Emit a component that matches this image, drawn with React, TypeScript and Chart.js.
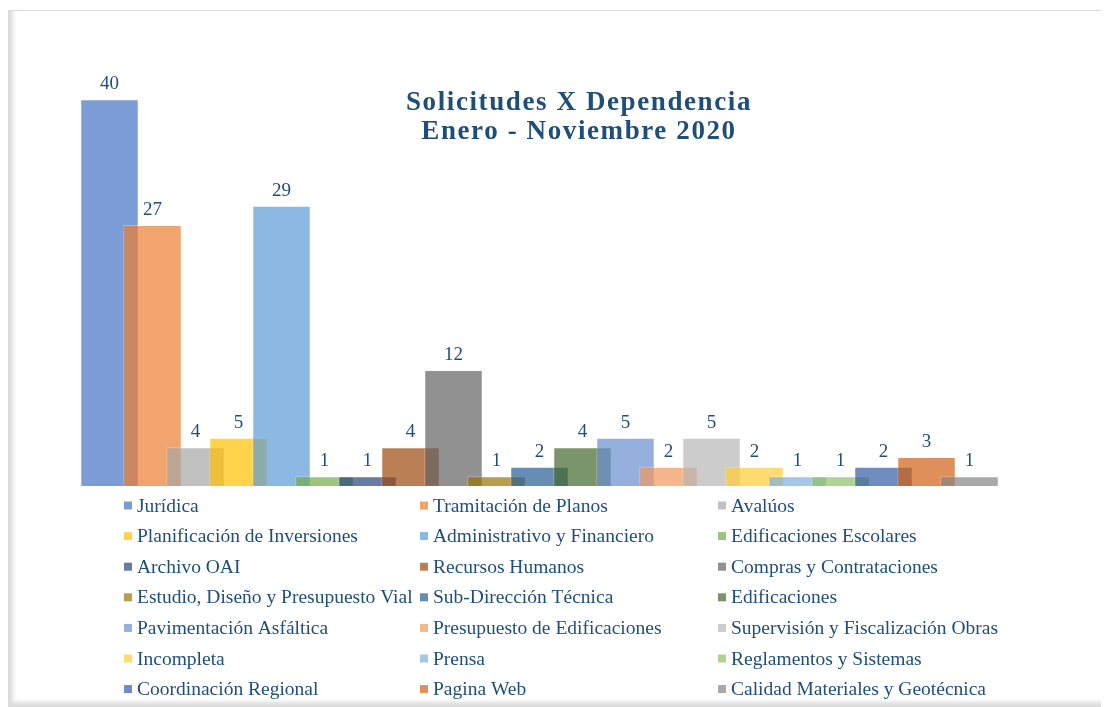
import React, { useEffect, useRef } from "react";
import { Chart, registerables } from "chart.js";

Chart.register(...registerables);

const categories = ["Enero - Noviembre 2020"];
const seriesNames = [
  "Jurídica",
  "Tramitación de Planos",
  "Avalúos",
  "Planificación de Inversiones",
  "Administrativo y Financiero",
  "Edificaciones Escolares",
  "Archivo OAI",
  "Recursos Humanos",
  "Compras y Contrataciones",
  "Estudio, Diseño y Presupuesto Vial",
  "Sub-Dirección Técnica",
  "Edificaciones",
  "Pavimentación Asfáltica",
  "Presupuesto de Edificaciones",
  "Supervisión y Fiscalización Obras",
  "Incompleta",
  "Prensa",
  "Reglamentos y Sistemas",
  "Coordinación Regional",
  "Pagina Web",
  "Calidad Materiales y Geotécnica",
];
const seriesValues = [40, 27, 4, 5, 29, 1, 1, 4, 12, 1, 2, 4, 5, 2, 5, 2, 1, 1, 2, 3, 1];
const seriesColors = [
  "68,114,196", "237,125,49", "165,165,165", "255,192,0", "91,155,213", "112,173,71",
  "38,68,120", "158,72,14", "99,99,99", "153,115,0", "37,94,145", "67,104,43",
  "105,142,208", "241,151,90", "183,183,183", "255,205,51", "124,175,221", "140,193,104",
  "51,90,161", "210,96,18", "132,132,132",
];
const titleLines = ["Solicitudes X Dependencia", "Enero - Noviembre 2020"];

const TEXT_COLOR = "#1F4E79";
const FONT = "'Liberation Serif', 'DejaVu Serif', serif";

// draw datasets in index order so later series sit on top of earlier ones
const drawOrderPlugin = {
  id: "forwardDrawOrder",
  beforeDatasetsDraw(chart: any) {
    chart.data.datasets.forEach((_: any, i: number) => {
      const meta = chart.getDatasetMeta(i);
      if (meta.visible !== false) meta.controller.draw();
    });
    return false;
  },
};

const labelsPlugin = {
  id: "valueLabels",
  afterDraw(chart: any) {
    const ctx = chart.ctx;
    ctx.save();
    ctx.font = `19px ${FONT}`;
    ctx.fillStyle = TEXT_COLOR;
    ctx.textAlign = "center";
    ctx.textBaseline = "alphabetic";
    chart.data.datasets.forEach((ds: any, i: number) => {
      const meta = chart.getDatasetMeta(i);
      meta.data.forEach((el: any, j: number) => {
        ctx.fillText(String(ds.data[j]), el.x, el.y - 10);
      });
    });
    ctx.restore();
  },
};

const titlePlugin = {
  id: "floatTitle",
  afterDraw(chart: any) {
    const ctx = chart.ctx;
    ctx.save();
    ctx.font = `bold 27px ${FONT}`;
    (ctx as any).letterSpacing = "1.6px";
    ctx.fillStyle = TEXT_COLOR;
    ctx.textAlign = "center";
    ctx.textBaseline = "alphabetic";
    const cx = 570;
    titleLines.forEach((t, i) => ctx.fillText(t, cx, 99 + i * 29));
    ctx.restore();
  },
};

const legendPlugin = {
  id: "gridLegend",
  afterDraw(chart: any) {
    const ctx = chart.ctx;
    ctx.save();
    ctx.font = `19.5px ${FONT}`;
    ctx.textBaseline = "middle";
    ctx.textAlign = "left";
    const cols = [115, 411, 709];
    const top = 494.5;
    const rowH = 30.6;
    chart.data.datasets.forEach((ds: any, i: number) => {
      const col = i % 3;
      const row = Math.floor(i / 3);
      const x = cols[col];
      const y = top + row * rowH;
      ctx.fillStyle = ds.backgroundColor;
      ctx.fillRect(x, y - 4, 8, 8);
      ctx.fillStyle = TEXT_COLOR;
      ctx.fillText(ds.label, x + 13, y + 1);
    });
    ctx.restore();
  },
};

export default function App() {
  const ref = useRef<HTMLCanvasElement | null>(null);
  useEffect(() => {
    if (!ref.current) return;
    const chart = new Chart(ref.current, {
      type: "bar",
      data: {
        labels: categories,
        datasets: seriesNames.map((name, i) => ({
          label: name,
          data: [seriesValues[i]],
          backgroundColor: `rgba(${seriesColors[i]},0.7)`,
          borderColor: "rgba(255,255,255,0.3)",
          borderWidth: 1,
          categoryPercentage: 1,
          barPercentage: 58.5 / 43,
          clip: false as any,
        })),
      },
      options: {
        animation: false,
        responsive: false,
        maintainAspectRatio: false,
        layout: { padding: { left: 79, right: 116, top: 40, bottom: 220 } },
        scales: {
          x: { display: false },
          y: { display: false, min: 0, max: 45 },
        },
        plugins: {
          legend: { display: false },
          title: { display: false },
          tooltip: { enabled: false },
        },
      },
      plugins: [drawOrderPlugin, labelsPlugin, titlePlugin, legendPlugin],
    });
    return () => chart.destroy();
  }, []);
  return (
    <div
      style={{
        marginTop: 2,
        width: 1100,
        height: 697,
        boxSizing: "border-box",
        border: "1px solid #D9D9D9",
        borderRight: "1px solid #EFEFEF",
        boxShadow: "inset 5px -5px 4px -1px rgba(0,0,0,0.14)",
        background: "#fff",
      }}
    >
      <canvas ref={ref} width={1098} height={695} style={{ display: "block" }} />
    </div>
  );
}
